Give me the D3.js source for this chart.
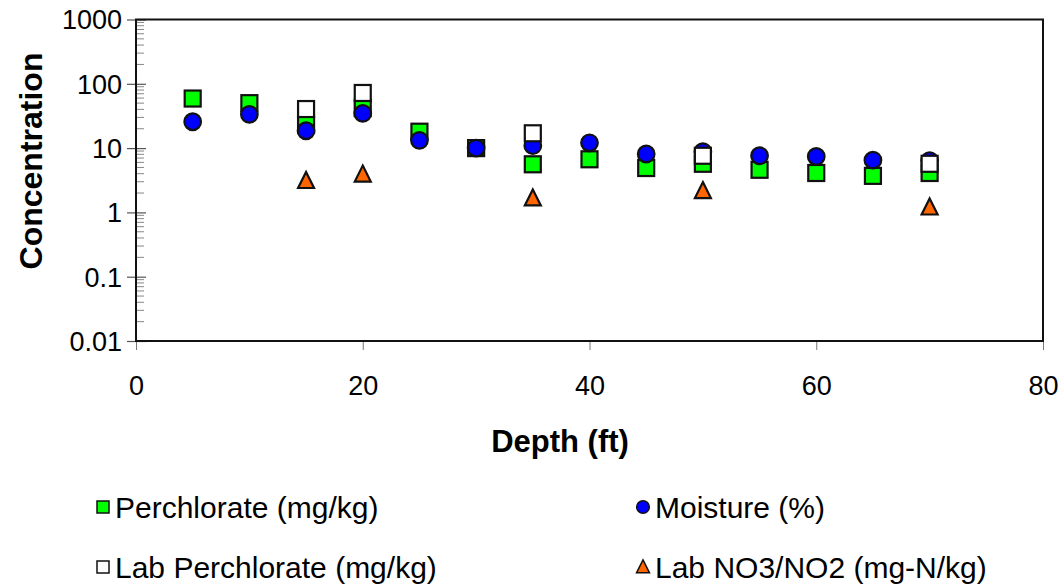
<!DOCTYPE html>
<html><head><meta charset="utf-8">
<script src="https://cdn.jsdelivr.net/npm/d3@7"></script>
<style>
body{margin:0;background:#fff;}
text{font-family:"Liberation Sans",Arial,sans-serif;fill:#000;}
</style></head>
<body>
<svg id="c" width="1064" height="585"></svg>
<script>
const depth = [5,10,15,20,25,30,35,40,45,50,55,60,65,70];
const perchlorate = [59,50,23,42,18,10,5.6,6.7,4.9,5.7,4.6,4.1,3.7,4.1];
const moisture = [25.7,33.5,18.6,34.7,13.2,10,10.9,12.1,8.1,8.8,7.6,7.4,6.5,6.4];
const labDepth = [15,20,35,50,70];
const labPerchlorate = [40.5,72,17,7.6,5.7];
const labNO3 = [3.1,3.9,1.66,2.16,1.2];
const xTicks = [0,20,40,60,80];
const yTicks = [0.01,0.1,1,10,100,1000];
const seriesNames = ["Perchlorate (mg/kg)","Moisture (%)","Lab Perchlorate (mg/kg)","Lab NO3/NO2 (mg-N/kg)"];

const FF='"Liberation Sans",Arial,sans-serif';
const svg = d3.select("#c");
const L=136,R=1043,T=19.5,B=341;
const x = d3.scaleLinear().domain([0,80]).range([L,R]);
const y = d3.scaleLog().domain([0.01,1000]).range([B,T]);

// minor y ticks inside
const minor=[];
for(let e=-2;e<3;e++) for(let k=2;k<10;k++) minor.push(k*Math.pow(10,e));
svg.append("g").selectAll("line").data(minor).join("line")
  .attr("x1",L).attr("x2",L+8).attr("y1",d=>y(d)).attr("y2",d=>y(d))
  .attr("stroke","#888").attr("stroke-width",1);

// y axis major ticks + labels
const yAxis = d3.axisLeft(y).tickValues(yTicks).tickSize(9).tickFormat(d=>String(d));
const gy = svg.append("g").attr("transform",`translate(${L},0)`).call(yAxis);
gy.select(".domain").remove();
gy.selectAll(".tick line").attr("stroke","#555").attr("stroke-width",1.2);
gy.selectAll(".tick").append("line").attr("x1",0).attr("x2",10).attr("stroke","#555").attr("stroke-width",1.2);
gy.selectAll(".tick text").attr("x",-14).attr("font-size","27px").attr("font-family",FF).attr("dy","0.35em");

// x axis
const xAxis = d3.axisBottom(x).tickValues(xTicks).tickSize(9).tickFormat(d=>String(d));
const gx = svg.append("g").attr("transform",`translate(0,${B})`).call(xAxis);
gx.select(".domain").remove();
gx.selectAll(".tick line").attr("stroke","#777").attr("stroke-width",1);
gx.selectAll(".tick text").attr("y",45).attr("font-size","27px").attr("font-family",FF).attr("dy","0.35em");

// frame
svg.append("rect").attr("x",L).attr("y",T).attr("width",R-L).attr("height",B-T)
  .attr("fill","none").attr("stroke","#111").attr("stroke-width",2);

// axis titles
svg.append("text").attr("x",560).attr("y",441).attr("dy","0.35em").attr("text-anchor","middle")
  .attr("font-size","31px").attr("font-weight","bold").text("Depth (ft)");
svg.append("text").attr("transform","translate(31,161) rotate(-90)").attr("dy","0.35em").attr("text-anchor","middle")
  .attr("font-size","32px").attr("font-weight","bold").text("Concentration");

const g = svg.append("g");
const sq=16, r=8.3, sw=2.2;
g.append("g").selectAll("rect").data(depth.map((d,i)=>[d,perchlorate[i]])).join("rect")
  .attr("x",d=>x(d[0])-sq/2).attr("y",d=>y(d[1])-sq/2).attr("width",sq).attr("height",sq)
  .attr("fill","#00ff00").attr("stroke","#111").attr("stroke-width",sw);
g.append("g").selectAll("circle").data(depth.map((d,i)=>[d,moisture[i]])).join("circle")
  .attr("cx",d=>x(d[0])).attr("cy",d=>y(d[1])).attr("r",r)
  .attr("fill","#0000ff").attr("stroke","#111").attr("stroke-width",sw);
g.append("g").selectAll("rect").data(labDepth.map((d,i)=>[d,labPerchlorate[i]])).join("rect")
  .attr("x",d=>x(d[0])-sq/2).attr("y",d=>y(d[1])-sq/2).attr("width",sq).attr("height",sq)
  .attr("fill","#ffffff").attr("stroke","#111").attr("stroke-width",sw);
const tri = (cx,cy,s)=>`M${cx},${cy-s*0.55}L${cx+s/2},${cy+s*0.45}L${cx-s/2},${cy+s*0.45}Z`;
g.append("g").selectAll("path").data(labDepth.map((d,i)=>[d,labNO3[i]])).join("path")
  .attr("d",d=>tri(x(d[0]),y(d[1]),16))
  .attr("fill","#ff6600").attr("stroke","#111").attr("stroke-width",sw).attr("stroke-linejoin","miter");

// legend
const leg = [
  {name:seriesNames[0],x:103,y:507,shape:"sq",fill:"#00ff00"},
  {name:seriesNames[1],x:643,y:507,shape:"ci",fill:"#0000ff"},
  {name:seriesNames[2],x:103,y:567,shape:"sq",fill:"#ffffff"},
  {name:seriesNames[3],x:643,y:567,shape:"tr",fill:"#ff6600"}
];
const lg = svg.append("g");
leg.forEach(d=>{
  if(d.shape==="sq") lg.append("rect").attr("x",d.x-6).attr("y",d.y-6).attr("width",12).attr("height",12).attr("fill",d.fill).attr("stroke","#111").attr("stroke-width",1.5);
  if(d.shape==="ci") lg.append("circle").attr("cx",d.x).attr("cy",d.y).attr("r",6.3).attr("fill",d.fill).attr("stroke","#111").attr("stroke-width",1.5);
  if(d.shape==="tr") lg.append("path").attr("d",tri(d.x,d.y,13)).attr("fill",d.fill).attr("stroke","#111").attr("stroke-width",1.5);
  lg.append("text").attr("x",d.x+12).attr("y",d.y).attr("dy","0.35em").attr("font-size","30px").text(d.name);
});
</script>
</body></html>
